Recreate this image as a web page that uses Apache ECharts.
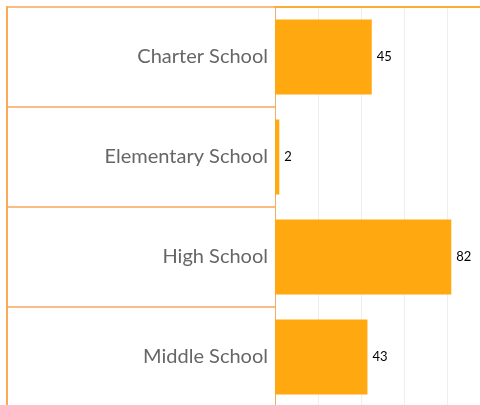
<!DOCTYPE html>
<html>
<head>
<meta charset="utf-8">
<script src="https://cdn.jsdelivr.net/npm/echarts@6/dist/echarts.min.js"></script>
<style>
  html, body { margin: 0; padding: 0; background: #fff; }
  #chart { width: 480px; height: 405px; }
</style>
</head>
<body>
<div id="chart"></div>
<script>
const categories = ['Charter School', 'Elementary School', 'High School', 'Middle School']
const counts = [45, 2, 82, 43]
const xTicks = { min: 0, max: 100, interval: 20 }

const chart = echarts.init(document.getElementById('chart'))

chart.setOption({
  backgroundColor: '#fff',
  animation: false,
  grid: {
    left: 275,
    top: 7,
    width: 215,
    height: 400,
    containLabel: false,
    outerBoundsMode: 'none'
  },
  xAxis: {
    type: 'value',
    position: 'top',
    min: xTicks.min,
    max: xTicks.max,
    interval: xTicks.interval,
    axisLine: {
      show: true,
      lineStyle: { color: '#fcae33', width: 2 }
    },
    axisTick: { show: false },
    axisLabel: { show: false },
    splitLine: {
      show: true,
      lineStyle: { color: '#eeeeee', width: 1 }
    }
  },
  yAxis: [{
    type: 'category',
    inverse: true,
    data: categories,
    axisLine: {
      show: true,
      lineStyle: { color: '#f2ad6a', width: 1 }
    },
    // ticks stretched left to draw the row separators of the label panel
    axisTick: {
      show: true,
      length: 268,
      lineStyle: { color: '#f6a75c', width: 1.5 }
    },
    axisLabel: {
      margin: 7,
      color: '#666666',
      fontFamily: 'Lato',
      fontSize: 20
    }
  }, {
    // left border of the label panel
    type: 'category',
    inverse: true,
    data: categories,
    position: 'left',
    offset: 268,
    axisLine: {
      show: true,
      lineStyle: { color: '#f9ab5a', width: 2 }
    },
    axisTick: { show: false },
    axisLabel: { show: false }
  }],
  series: [{
    type: 'bar',
    data: counts,
    barCategoryGap: '25%',
    itemStyle: { color: '#ffa80f' },
    label: {
      show: true,
      position: 'right',
      distance: 5,
      color: '#000000',
      fontFamily: 'Lato',
      fontSize: 13
    }
  }]
})
</script>
</body>
</html>
